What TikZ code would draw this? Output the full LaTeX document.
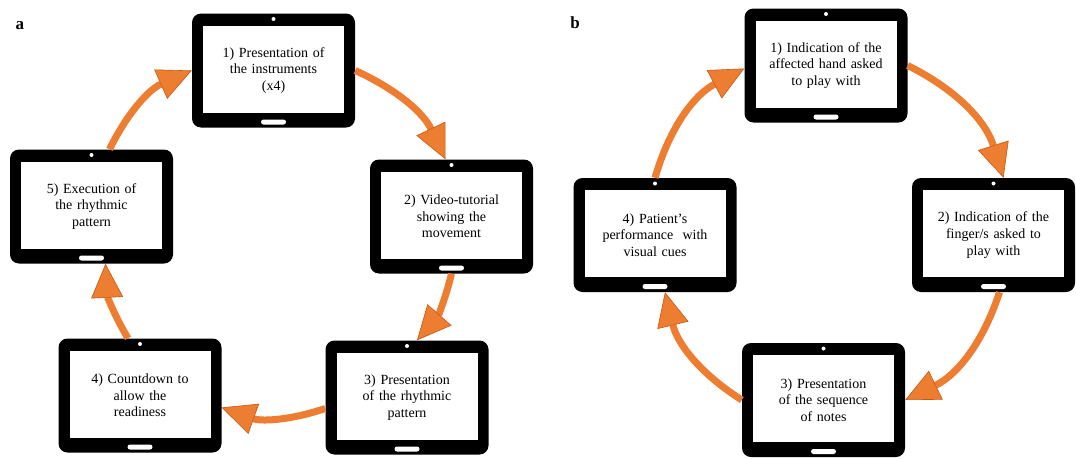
\documentclass[tikz,border=0pt]{standalone}
\usepackage{fontspec}
\setmainfont{Liberation Serif}
\usetikzlibrary{arrows.meta}

\definecolor{arrorange}{HTML}{ED7D31}
\definecolor{arrdark}{HTML}{C55A11}

\tikzset{
  tablet/.style={fill=black, rounded corners=9pt, minimum width=163pt, minimum height=114pt,
    inner sep=0pt, text width=138pt, align=center, font=\fontsize{14}{16.7}\selectfont,
    path picture={
      \fill[white, sharp corners] ([xshift=11pt,yshift=15pt]path picture bounding box.south west)
        rectangle ([xshift=-11pt,yshift=-12pt]path picture bounding box.north east);
      \fill[white] ([yshift=-5.5pt]path picture bounding box.north) circle (2pt);
      \fill[white, rounded corners=2.5pt] ([xshift=-12.5pt,yshift=3pt]path picture bounding box.south)
        rectangle ([xshift=12.5pt,yshift=8pt]path picture bounding box.south);
    }},
  panel/.style={font=\fontsize{17}{17}\selectfont\bfseries}
}

\begin{document}
\begin{tikzpicture}[x=1pt, y=-1pt,
    >={Triangle[length=34pt, width=32pt, line width=0.6pt, fill=arrorange, color=arrdark]},
    flow/.style={->, color=arrorange, line width=7pt}]

    \useasboundingbox (0,0) rectangle (1076,458);

    %panel letters
    \node[panel] (la) at (20,26) {a};
    \node[panel] (lb) at (575,22.5) {b};

    %define the screens of panel a
    \node[tablet] (t1) at (273.5,70.5) {1) Presentation of\\ the instruments\\ (x4)};
    \node[tablet] (t2) at (451.5,216.5) {2) Video-tutorial\\ showing the\\ movement};
    \node[tablet] (t3) at (407,397.5) {3) Presentation\\ of the rhythmic\\ pattern};
    \node[tablet] (t4) at (140,395.5) {4) Countdown to\\ allow the\\ readiness};
    \node[tablet] (t5) at (91.5,206.5) {5) Execution of\\ the rhythmic\\ pattern};

    %define the screens of panel b
    \node[tablet] (b1) at (826,65.5) {1) Indication of the\\ affected hand asked\\ to play with};
    \node[tablet] (b2) at (993.5,235) {2) Indication of the\\ finger/s asked to\\ play with};
    \node[tablet] (b3) at (823.5,400) {3) Presentation\\ of the sequence\\ of notes};
    \node[tablet] (b4) at (655,235) {4) Patient’s\\ performance~ with\\ visual cues};

    %define the cycle of panel a
    \path[flow] (t1.east) edge [bend left=20] ([xshift=-6pt]t2.north)
    (t2.south) edge [bend left=14] ([xshift=10pt]t3.north)
    ([yshift=-11pt]t3.west) edge [bend left=19] ([yshift=-12pt]t4.east)
    ([xshift=-12pt]t4.north) edge [bend left=14] ([xshift=14pt]t5.south)
    ([xshift=18pt]t5.north) edge [bend left=20] (t1.west);

    %define the cycle of panel b
    \path[flow] (b4.north) edge [bend left=23] ([yshift=-3pt]b1.west)
    (b1.east) edge [bend left=23] ([xshift=10pt]b2.north)
    ([xshift=6pt]b2.south) edge [bend left=23] (b3.east)
    (b3.west) edge [bend left=22] ([xshift=10pt]b4.south);
  \end{tikzpicture}
\end{document}
